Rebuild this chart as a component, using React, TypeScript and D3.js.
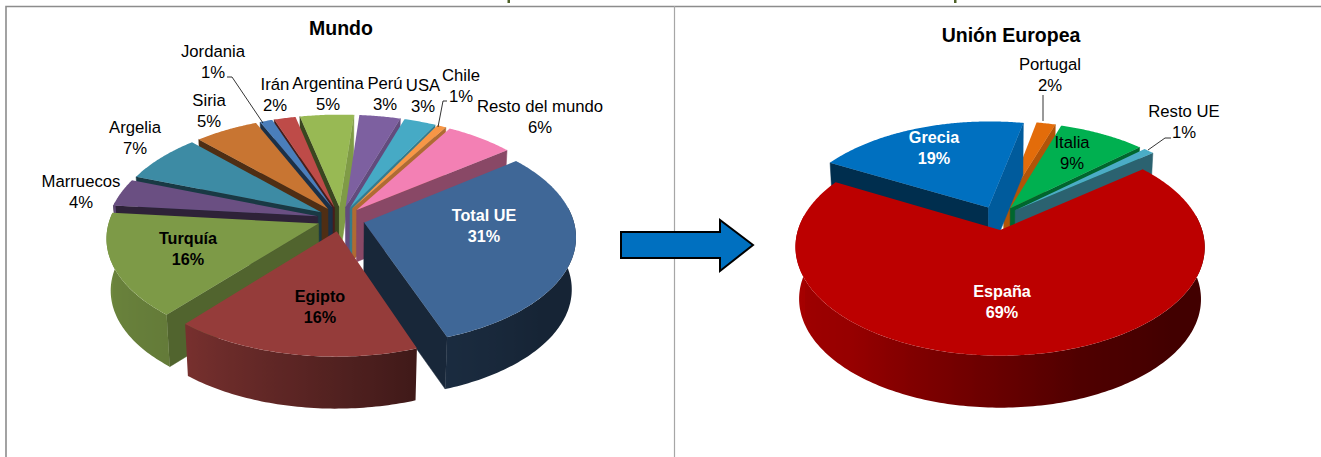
import React from "react";
import * as d3 from "d3";

// ---------- data ----------
const worldNames = ["Total UE", "Egipto", "Turquía", "Marruecos", "Argelia", "Siria", "Jordania", "Irán", "Argentina", "Perú", "USA", "Chile", "Resto del mundo"];
const worldValues = [30.1, 16.6, 15.5, 4.1, 7.2, 5.6, 1.1, 1.9, 4.7, 3.6, 2.8, 0.8, 6.0];
const worldPercentLabels = ["31%", "16%", "16%", "4%", "7%", "5%", "1%", "2%", "5%", "3%", "3%", "1%", "6%"];
const worldColors = ["#3f6797", "#953c3a", "#7d9a47", "#6a4f82", "#3d8ba4", "#c87532", "#4a7ebb", "#be4b48", "#98b954", "#7d60a0", "#46aac5", "#f79646", "#f380b4"];

const euNames = ["España", "Grecia", "Portugal", "Italia", "Resto UE"];
const euValues = [68.9, 20.1, 1.8, 8.2, 1.0];
const euPercentLabels = ["69%", "19%", "2%", "9%", "1%"];
const euColors = ["#bc0000", "#0070c0", "#e36c0a", "#00b050", "#4bacc6"];

// ---------- layout ----------
const FONT = "'Liberation Sans', Arial, sans-serif";
const rad = (deg: number) => (deg * Math.PI) / 180;
const deg = (r: number) => (r * 180) / Math.PI;

const rimShade = d3.scaleLinear().domain([80, 130, 160, 180, 220, 280]).range([0.35, 0.35, 0.42, 0.55, 0.8, 0.9]).clamp(true);
const edgeShade = d3.scaleLinear().domain([90, 100, 110, 128, 137, 190, 250]).range([0.85, 0.82, 0.77, 0.67, 0.58, 0.42, 0.38]).clamp(true);

const worldLabelLayout: Record<string, [number, number, string, string]> = {
  "Total UE": [484, 226, "#fff", "bold"],
  Egipto: [320, 307, "#000", "bold"],
  "Turquía": [188, 249, "#000", "bold"],
  Marruecos: [81, 192, "#000", "normal"],
  Argelia: [135, 138, "#000", "normal"],
  Siria: [209, 111, "#000", "normal"],
  Jordania: [213, 62, "#000", "normal"],
  "Irán": [275, 95, "#000", "normal"],
  Argentina: [328, 94, "#000", "normal"],
  "Perú": [385, 94, "#000", "normal"],
  USA: [423, 96, "#000", "normal"],
  Chile: [461, 86, "#000", "normal"],
  "Resto del mundo": [540, 117, "#000", "normal"],
};
const euLabelLayout: Record<string, [number, number, string, string]> = {
  "España": [1002, 302, "#fff", "bold"],
  Grecia: [934, 148, "#fff", "bold"],
  Portugal: [1050, 75, "#000", "normal"],
  Italia: [1072, 153, "#000", "normal"],
  "Resto UE": [1184, 122, "#000", "normal"],
};
const leaders = [
  [[227, 77], [232, 77], [263, 123]],
  [[447, 101], [443, 101], [438, 127]],
  [[1043, 95], [1043, 121]],
  [[1171, 138], [1165, 138], [1148, 150]],
];

function shade(c: string, f: number) {
  const r = d3.rgb(c);
  return d3.rgb(r.r * f, r.g * f, r.b * f).formatHex();
}

const lineGen = d3.line();
const poly = (pts: [number, number][]) => lineGen(pts) + "Z";

function Pie3D({ id, values, colors, cx, cy, R, explode, depth, start, tilt, persp }: any) {
  const arcs = d3.pie<number>().sort(null).startAngle(rad(start)).endAngle(rad(start + 360))(values);
  const slices = arcs.map((a, i) => {
    const t0 = deg(a.startAngle);
    const t1 = deg(a.endAngle);
    const mid = rad((t0 + t1) / 2);
    const eu = explode * Math.sin(mid);
    const ev = -explode * Math.cos(mid);
    return { i, t0, t1, eu, ev, color: colors[i] };
  });
  const order = [...slices].sort((a, b) => a.ev - b.ev);

  const project = (s: any, thetaDeg: number, r: number, h: number): [number, number] => {
    const t = rad(thetaDeg);
    const u = s.eu + r * Math.sin(t);
    const v = s.ev - r * Math.cos(t);
    const k = 1 / (1 - (persp * v) / R);
    return [cx + u * k * (1 - 0.018 * h), cy + tilt * v * k + h * depth];
  };
  const norm = (a: number) => ((a % 360) + 360) % 360;

  return (
    <g>
      {order.map((s) => {
        const topPts: [number, number][] = [project(s, s.t0, 0, 0)];
        d3.range(s.t0, s.t1, 0.5).forEach((t) => topPts.push(project(s, t, R, 0)));
        topPts.push(project(s, s.t1, R, 0));

        const edgeWall = (theta: number, normal: number) => {
          const n = norm(normal);
          if (n < 90 || n > 270) return null;
          return (
            <path
              key={"e" + theta}
              d={poly([project(s, theta, 0, 0), project(s, theta, R, 0), project(s, theta, R, 1), project(s, theta, 0, 1)])}
              fill={shade(s.color, edgeShade(n))}
              stroke={shade(s.color, edgeShade(n))}
              strokeWidth={0.5}
            />
          );
        };

        // visible outer rim, one polygon with a horizontal gradient
        const ts = d3.range(s.t0, s.t1, 1).concat(s.t1).filter((t) => {
          const m = norm(t);
          return m >= 82 && m <= 278;
        });
        let rim = null;
        if (ts.length > 1) {
          const gid = `${id}-rim-${s.i}`;
          const upper = ts.map((t) => project(s, t, R, 0));
          const lower = ts.map((t) => project(s, t, R, 1));
          const xs = upper.map((p) => p[0]);
          const x0 = d3.min(xs) as number;
          const x1 = d3.max(xs) as number;
          const stops = ts
            .map((t, j) => ({ x: xs[j], c: shade(s.color, rimShade(norm(t))) }))
            .sort((a, b) => a.x - b.x);
          rim = (
            <g>
              <defs>
                <linearGradient id={gid} gradientUnits="userSpaceOnUse" x1={x0} x2={x1} y1={0} y2={0}>
                  {stops.map((st, j) => (
                    <stop key={j} offset={(st.x - x0) / Math.max(1, x1 - x0)} stopColor={st.c} />
                  ))}
                </linearGradient>
              </defs>
              <path d={poly([...upper, ...lower.reverse()])} fill={`url(#${gid})`} />
            </g>
          );
        }
        return (
          <g key={s.i}>
            {edgeWall(s.t0, s.t0 - 90)}
            {edgeWall(s.t1, s.t1 + 90)}
            {rim}
            <path d={poly(topPts)} fill={s.color} />
          </g>
        );
      })}
    </g>
  );
}

function Labels({ names, pcts, layout }: any) {
  return (
    <g fontFamily={FONT} textAnchor="middle">
      {names.map((n: string, i: number) => {
        const [x, y, fill, weight] = layout[n];
        return (
          <text key={n} x={x} y={y} fill={fill} fontWeight={weight} fontSize={weight === "bold" ? 16.2 : 16.7}>
            <tspan x={x} dy={-5}>{n}</tspan>
            <tspan x={x} dy={21}>{pcts[i]}</tspan>
          </text>
        );
      })}
    </g>
  );
}

export default function App() {
  return (
    <svg width={1321} height={457} style={{ position: "absolute", left: 0, top: 0, background: "#fff" }}>
      <rect x={507.5} y={0} width={2.5} height={3} fill="#4f6228" />
      <rect x={954} y={0} width={2.5} height={3} fill="#4f6228" />
      <path d="M6,457V6.5H1321" fill="none" stroke="#8c8c8c" strokeWidth={1.6} />
      <line x1={674.5} x2={674.5} y1={6} y2={457} stroke="#a6a6a6" strokeWidth={1.2} />

      <Pie3D id="w" values={worldValues} colors={worldColors} cx={341} cy={219} R={209} explode={24} depth={52} start={52} tilt={0.51} persp={0.124} />
      <Pie3D id="e" values={euValues} colors={euColors} cx={998} cy={218} R={198.5} explode={23} depth={52} start={51} tilt={0.515} persp={0.154} />

      <path d="M621,232H720V220L753,245L720,271V258H621Z" fill="#0070c0" stroke="#000" strokeWidth={2} />

      <g fill="none" stroke="#000" strokeWidth={0.8}>
        {leaders.map((l, i) => (
          <path key={i} d={d3.line()(l as any) as string} />
        ))}
      </g>

      <text x={341} y={35} fontFamily={FONT} fontSize={19.5} fontWeight="bold" textAnchor="middle">Mundo</text>
      <text x={1011} y={42} fontFamily={FONT} fontSize={19.5} fontWeight="bold" textAnchor="middle">Unión Europea</text>
      <Labels names={worldNames} pcts={worldPercentLabels} layout={worldLabelLayout} />
      <Labels names={euNames} pcts={euPercentLabels} layout={euLabelLayout} />
    </svg>
  );
}
